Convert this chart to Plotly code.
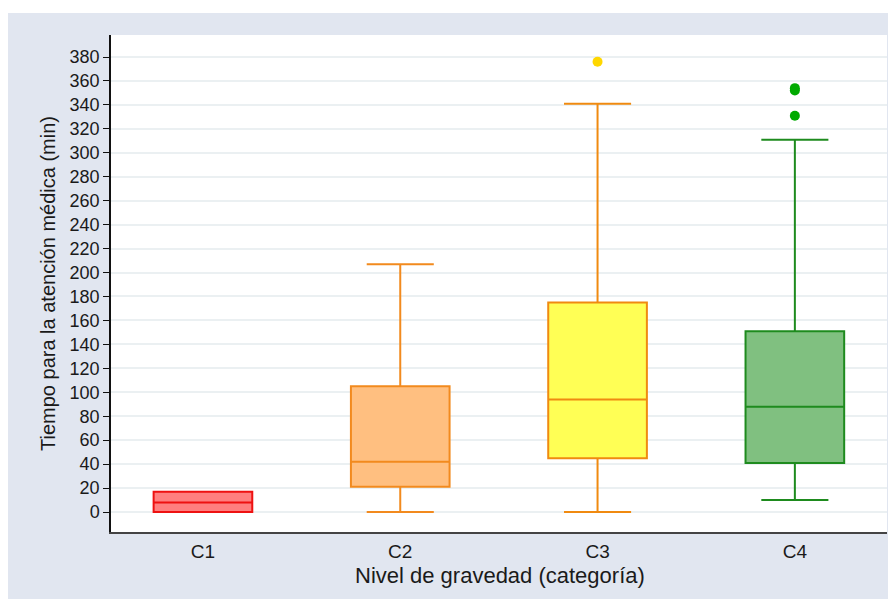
import plotly.graph_objects as go

categories = ["C1", "C2", "C3", "C4"]
q1 = [0, 21, 45, 41]
median = [8, 42, 94, 88]
q3 = [17, 105, 175, 151]
lowerfence = [0, 0, 0, 10]
upperfence = [17, 207, 341, 311]

outlier_cat = ["C3", "C4", "C4", "C4"]
outlier_val = [376, 331, 352, 354]
outlier_colors = ["#FFD700", "#00AA00", "#00AA00", "#00AA00"]

fill_colors = ["rgba(255,0,0,0.5)", "#FFBF80", "#FFFF55", "#80C080"]
line_colors = ["#EE1111", "#F28A1E", "#F08A10", "#1E8B1E"]

yticks = list(range(0, 381, 20))

fig = go.Figure()
for i, c in enumerate(categories):
    fig.add_trace(go.Box(
        x=[c], q1=[q1[i]], median=[median[i]], q3=[q3[i]],
        lowerfence=[lowerfence[i]], upperfence=[upperfence[i]],
        width=0.5, whiskerwidth=0.68,
        fillcolor=fill_colors[i],
        line=dict(color=line_colors[i], width=2),
        boxpoints=False, showlegend=False, hoverinfo="skip",
    ))

fig.add_trace(go.Scatter(
    x=outlier_cat, y=outlier_val, mode="markers",
    marker=dict(color=outlier_colors, size=10, line=dict(width=0)),
    showlegend=False, hoverinfo="skip",
))

# layout geometry (pixels, figure coords; page adds 8px body margin)
W, H = 888, 591
L, R, T, B = 103, 9, 27, 67
pw, ph = W - L - R, H - T - B

def px_x(p):
    return (p - L) / pw

def px_y(p):
    return (H - B - p) / ph

panel = "#E1E6F0"
# white strip above the grey panel
fig.add_shape(type="rect", xref="paper", yref="paper",
              x0=px_x(-5), x1=px_x(W + 5), y0=px_y(5), y1=px_y(-5),
              fillcolor="white", line=dict(width=0), layer="below")

font_family = "Liberation Sans, Arial, sans-serif"
txt = "#1a1a1a"

fig.add_annotation(
    text="Nivel de gravedad (categoría)", xref="paper", yref="paper",
    x=px_x(492), y=px_y(567), xanchor="center", yanchor="middle",
    showarrow=False, font=dict(size=22, family=font_family, color=txt),
)

fig.update_layout(
    width=W, height=H,
    margin=dict(l=L, r=R, t=T, b=B, pad=0),
    paper_bgcolor=panel,
    plot_bgcolor="white",
    boxmode="overlay",
    font=dict(family=font_family, color=txt),
    xaxis=dict(
        type="category",
        categoryorder="array", categoryarray=categories,
        range=[-0.466, 3.467],
        showgrid=False, zeroline=False,
        showline=True, linecolor="#444444", linewidth=1.5,
        ticks="", ticklabelstandoff=1,
        tickfont=dict(size=19, family=font_family, color=txt),
    ),
    yaxis=dict(
        range=[-16.7, 398.4],
        tickmode="array", tickvals=yticks, ticktext=[str(v) for v in yticks],
        showgrid=True, gridcolor="#EBF0F2", gridwidth=1.5,
        zeroline=False,
        showline=True, linecolor="#111111", linewidth=1.5,
        ticks="outside", ticklen=6, tickcolor="#111111", tickwidth=1,
        tickfont=dict(size=18, family=font_family, color=txt),
        title=dict(text="Tiempo para la atención médica (min)",
                   font=dict(size=20, family=font_family, color=txt),
                   standoff=9),
    ),
)

fig.write_html("out.html")
